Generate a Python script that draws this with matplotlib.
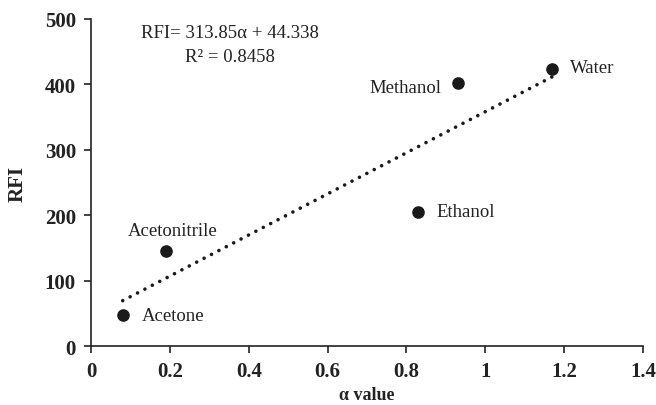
import numpy as np
import matplotlib.pyplot as plt

plt.rcParams['font.family'] = ['Liberation Serif', 'DejaVu Serif']

solvents = ['Acetone', 'Acetonitrile', 'Ethanol', 'Methanol', 'Water']
alpha = [0.08, 0.19, 0.83, 0.93, 1.17]
rfi = [47, 145, 205, 402, 424]
slope = 313.85
intercept = 44.338
x_ticks = [0, 0.2, 0.4, 0.6, 0.8, 1, 1.2, 1.4]
x_tick_labels = ['0', '0.2', '0.4', '0.6', '0.8', '1', '1.2', '1.4']
y_ticks = [0, 100, 200, 300, 400, 500]

fig = plt.figure(figsize=(6.56, 4.06), dpi=100)
ax = fig.add_axes([0.139, 0.145, 0.841, 0.806])

xf = np.linspace(min(alpha), max(alpha), 2)
ax.plot(xf, slope * xf + intercept, color='#1a1a1a', linestyle=(0, (0.01, 2.3)),
        linewidth=2.6, dash_capstyle='round')
ax.scatter(alpha, rfi, s=65, color='#1a1a1a', zorder=3)

offsets = {'Acetone': (14, 0, 'left'), 'Acetonitrile': (5, 15, 'center'),
           'Ethanol': (13, 0, 'left'), 'Methanol': (-12, -3, 'right'),
           'Water': (13, 1, 'left')}
for name, x, y in zip(solvents, alpha, rfi):
    dx, dy, ha = offsets[name]
    ax.annotate(name, (x, y), xytext=(dx, dy), textcoords='offset points',
                ha=ha, va='center', fontsize=13.5, color='#222222')

ax.text(0.252, 0.958, 'RFI= 313.85α + 44.338', transform=ax.transAxes,
        ha='center', va='center', fontsize=13.5, color='#222222')
ax.text(0.252, 0.886, 'R² = 0.8458', transform=ax.transAxes,
        ha='center', va='center', fontsize=13.5, color='#222222')

ax.set_xlim(0, 1.4)
ax.set_ylim(0, 500)
ax.set_xticks(x_ticks)
ax.set_xticklabels(x_tick_labels)
ax.set_yticks(y_ticks)
for s in ['top', 'right']:
    ax.spines[s].set_visible(False)
for s in ['left', 'bottom']:
    ax.spines[s].set_linewidth(1.2)
    ax.spines[s].set_color('#222222')
ax.tick_params(direction='out', length=5, width=1.2, colors='#222222', labelsize=15, pad=6)
for lab in ax.get_xticklabels() + ax.get_yticklabels():
    lab.set_fontweight('bold')
ax.set_xlabel('α value', fontsize=13, fontweight='bold', color='#222222', labelpad=3)
ax.set_ylabel('RFI', fontsize=15, fontweight='bold', color='#222222', labelpad=12)

fig.savefig('out.png', dpi=100)
